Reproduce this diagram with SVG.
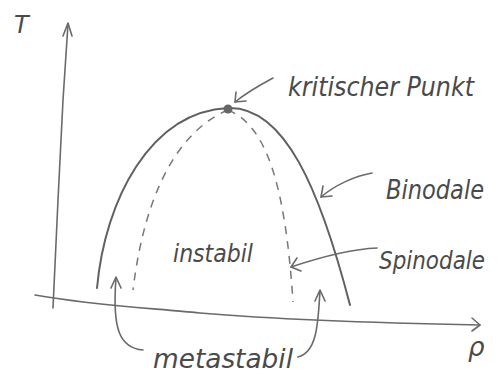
<svg xmlns="http://www.w3.org/2000/svg" width="504" height="380" viewBox="0 0 504 380">
<style>
.ln{fill:none;stroke:#6a6a6a;stroke-width:1.6;stroke-linecap:round;stroke-linejoin:round}
.bi{fill:none;stroke:#606060;stroke-width:2;stroke-linecap:round}
.sp{fill:none;stroke:#777;stroke-width:1.5;stroke-dasharray:8 7}
.t{font-family:"DejaVu Sans",sans-serif;font-style:italic;fill:#4a4a4a}
</style>
<rect width="504" height="380" fill="#fff"/>
<g id="axes">
<path class="ln" d="M53,308 L58,200 L63,100 L68,24"/>
<path class="ln" d="M63,36 L68,23 L72,36"/>
<path class="ln" d="M35,295 C90,305 150,308 200,313 C260,318 330,322 480,325"/>
<path class="ln" d="M472,318 L480,325 L472,331"/>
<text class="t" x="14" y="33" font-size="24">T</text>
<text class="t" x="468" y="356" font-size="26">ρ</text>
</g>
<g id="binodale-curve">
<path class="bi" d="M97,288 C105,200 150,112 228,108 C285,106 320,190 350,305"/>
</g>
<g id="spinodale-curve">
<path class="sp" d="M228,110 C180,130 145,190 133,290"/>
<path class="sp" d="M228,110 C265,125 285,180 293,302"/>
</g>
<g id="kritischer-punkt">
<circle cx="228" cy="109" r="4.5" fill="#666"/>
<text class="t" x="288" y="96" font-size="26" textLength="186" lengthAdjust="spacingAndGlyphs">kritischer Punkt</text>
</g>
<g id="binodale">
<text class="t" x="386" y="199" font-size="26" textLength="98" lengthAdjust="spacingAndGlyphs">Binodale</text>
</g>
<g id="spinodale">
<text class="t" x="379" y="269" font-size="25" textLength="106" lengthAdjust="spacingAndGlyphs">Spinodale</text>
</g>
<g id="instabil">
<text class="t" x="173" y="262" font-size="24" textLength="80" lengthAdjust="spacingAndGlyphs">instabil</text>
</g>
<g id="metastabil">
<text class="t" x="153" y="368" font-size="26" textLength="140" lengthAdjust="spacingAndGlyphs">metastabil</text>
</g>
<g id="connectors">
<path class="ln" d="M273,78 C258,86 245,94 235,102"/>
<path class="ln" d="M236,92 L235,102 L246,101"/>
<path class="ln" d="M372,173 C355,176 335,185 321,197"/>
<path class="ln" d="M323,186 L321,197 L332,196"/>
<path class="ln" d="M377,248 C350,249 318,258 291,267"/>
<path class="ln" d="M297,258 L291,267 L301,271"/>
<path class="ln" d="M143,350 C120,348 112,330 116,278"/>
<path class="ln" d="M111,288 L116,277 L121,288"/>
<path class="ln" d="M298,357 C318,352 318,320 320,291"/>
<path class="ln" d="M315,301 L320,290 L325,301"/>
</g>
</svg>
